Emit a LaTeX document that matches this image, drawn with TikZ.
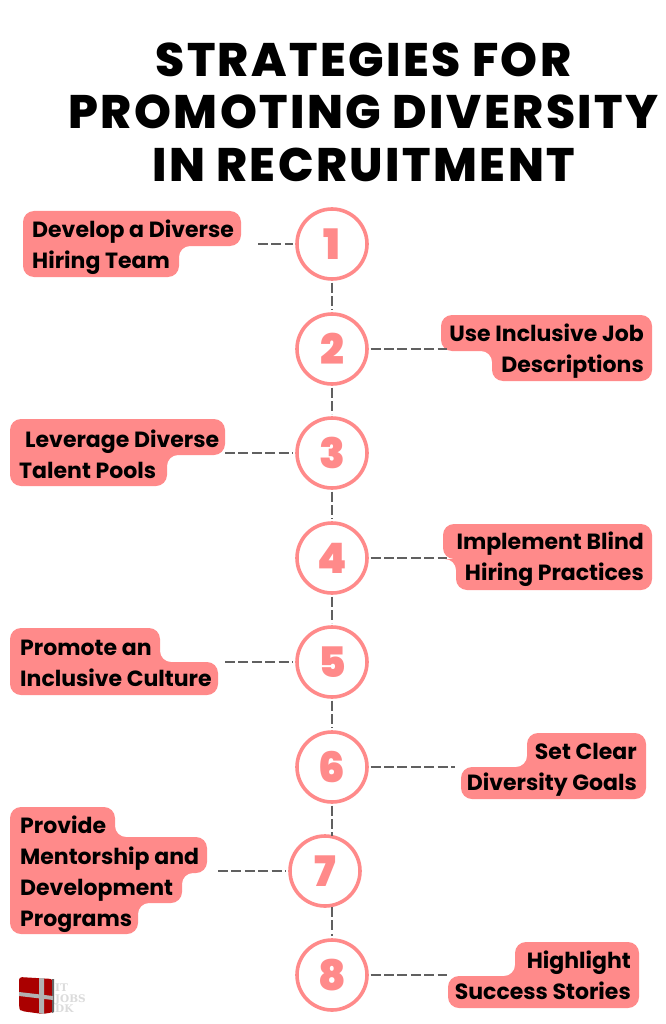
\documentclass[tikz,border=0pt]{standalone}
\usepackage{fontspec}
\usetikzlibrary{calc}
\setmainfont{Poppins}[BoldFont={* Bold}]
\newfontfamily\heavy{Poppins ExtraBold}[LetterSpace=5.2]
\newfontfamily\heavynum{Poppins Black}
\newfontfamily\serifb{DejaVu Serif}[BoldFont={* Bold}]
\definecolor{coral}{HTML}{FF8A8A}
\definecolor{dashgray}{HTML}{606060}
\definecolor{logored}{HTML}{AA0000}
\tikzset{
  bubble/.style={fill=coral, rounded corners=11pt},
  lbl/.style={font=\fontsize{22}{31}\selectfont\bfseries, inner sep=0pt, text=black},
  lblL/.style={lbl, anchor=west, align=left},
  lblR/.style={lbl, anchor=east, align=right},
  num/.style={circle, draw=coral, line width=3.6pt, fill=white, minimum size=70pt, inner sep=0pt,
     font=\heavynum\fontsize{42}{42}\selectfont, text=coral},
  conn/.style={draw=dashgray, line width=2.6pt, dash pattern=on 10pt off 3.4pt},
  ttl/.style={font=\heavy\fontsize{47}{52.5}\selectfont, inner sep=0pt, align=center, text=black},
  logotxt/.style={font=\serifb\bfseries\fontsize{10.5}{10.5}\selectfont, text=black!14, inner sep=0pt, anchor=base west}
}
\begin{document}
\begin{tikzpicture}[x=1pt,y=-1pt]
\useasboundingbox[fill=white] (0,0) rectangle (665,1024);
\node[ttl] (title) at (363.5,112) {STRATEGIES FOR\\PROMOTING DIVERSITY\\IN RECRUITMENT};
% bubbles
\fill[bubble] (23,211)--(241,211)--(241,246)--(179,246)--(179,277)--(23,277)--cycle;
\fill[bubble] (441,315)--(652,315)--(652,381)--(492,381)--(492,351)--(441,351)--cycle;
\fill[bubble] (10,419)--(225,419)--(225,455)--(167,455)--(167,486)--(10,486)--cycle;
\fill[bubble] (443,524)--(652,524)--(652,590)--(456,590)--(456,559)--(443,559)--cycle;
\fill[bubble] (10,628)--(160,628)--(160,662)--(218,662)--(218,695)--(10,695)--cycle;
\fill[bubble] (527,733)--(646,733)--(646,799)--(461,799)--(461,767)--(527,767)--cycle;
\fill[bubble] (10,807)--(115,807)--(115,837)--(207,837)--(207,873)--(182,873)--(182,903)--(138,903)--(138,934)--(10,934)--cycle;
\fill[bubble] (515,942)--(639,942)--(639,1008)--(448,1008)--(448,976)--(515,976)--cycle;
% labels
\node[lblL] (t1) at (32,247) {Develop a Diverse\\Hiring Team};
\node[lblR] (t2) at (644,351) {Use Inclusive Job\\Descriptions};
\node[lblL] (t3) at (19,454) {\hspace*{6pt}Leverage Diverse\\Talent Pools};
\node[lblR] (t4) at (644,559) {Implement Blind\\Hiring Practices};
\node[lblL] (t5) at (20,663) {Promote an\\Inclusive Culture};
\node[lblR] (t6) at (637,770) {Set Clear\\Diversity Goals};
\node[lblL] (t7) at (20,874) {Provide\\Mentorship and\\Development\\Programs};
\node[lblR] (t8) at (631,975) {Highlight\\Success Stories};
% circles
\node[num] (c1) at (332,244) {1};
\node[num] (c2) at (332,349) {2};
\node[num] (c3) at (332,453) {3};
\node[num] (c4) at (332,558) {4};
\node[num] (c5) at (332,662) {5};
\node[num] (c6) at (332,767) {6};
\node[num] (c7) at (325,871) {7};
\node[num] (c8) at (332,975) {8};
% connector ends
\coordinate (e1) at (258,244);
\coordinate (e2) at (447,349);
\coordinate (e3) at (225,453);
\coordinate (e4) at (447,558);
\coordinate (e5) at (225,662);
\coordinate (e6) at (455,767);
\coordinate (e7) at (218,871);
\coordinate (e8) at (447,975);
\coordinate (v7a) at (332,836);
\coordinate (v7b) at (332,907);
\draw[conn] (e1) -- ($(c1.west)+(-1.8,0)$);
\draw[conn] (c2.east) ++(1.8,0) -- (e2);
\draw[conn] (e3) -- ($(c3.west)+(-1.8,0)$);
\draw[conn] (c4.east) ++(1.8,0) -- (e4);
\draw[conn] (e5) -- ($(c5.west)+(-1.8,0)$);
\draw[conn] (c6.east) ++(1.8,0) -- (e6);
\draw[conn] (e7) -- ($(c7.west)+(-1.8,0)$);
\draw[conn] (c8.east) ++(1.8,0) -- (e8);
\foreach \a/\b in {c1/c2,c2/c3,c3/c4,c4/c5,c5/c6}
  \draw[conn] ($(\a.south)+(0,1.8)$) -- ($(\b.north)+(0,-1.8)$);
\draw[conn] ($(c6.south)+(0,1.8)$) -- (v7a);
\draw[conn] (v7b) -- ($(c8.north)+(0,-1.8)$);
% logo
\node[logotxt] (lt1) at (55,991) {IT};
\node[logotxt] (lt2) at (55,1002) {JOBS};
\node[logotxt] (lt3) at (55,1012) {DK};
\fill[logored, rounded corners=3pt] (19,977)--(53,979)--(54,1012)--(43,1014)--(21,1011)--(19,1008)--cycle;
\fill[black!60] (52,979)--(54,979)--(54,1012)--(52,1013)--cycle;
\fill[black!30] (39,978)--(44,978)--(44,1014)--(39,1013)--cycle;
\fill[black!30] (19,992)--(53,996)--(53,1000)--(19,996)--cycle;
\end{tikzpicture}
\end{document}
